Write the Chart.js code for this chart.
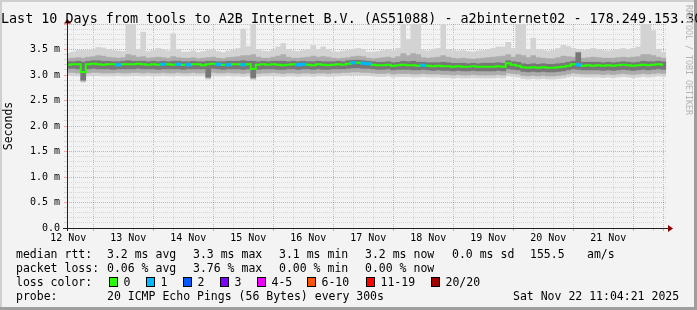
<!DOCTYPE html>
<html lang="en">
<head>
<meta charset="utf-8">
<title>smokeping a2binternet02</title>
<script src="https://cdn.jsdelivr.net/npm/chart.js@4.4.1/dist/chart.umd.min.js"></script>
<style>
  body { margin: 0; background: #fff; }
  #quadro { position: relative; width: 697px; height: 310px; overflow: hidden; font-family: "DejaVu Sans Mono", monospace; color: #000; }
  #quadro canvas { position: absolute; left: 0; top: 0; }
  #titulo { position: absolute; left: 1px; top: 10.5px; font-size: 13.4px; line-height: 16px; white-space: nowrap; }
  .txt { position: absolute; font-size: 11.5px; line-height: 14px; white-space: pre; }
  .caixa { position: absolute; width: 7px; height: 8px; border: 1px solid #000; }
  #marca { position: absolute; left: 684px; top: 5px; writing-mode: vertical-rl; font-size: 8.3px; line-height: 10px; color: #b4b4b4; white-space: nowrap; }
</style>
</head>
<body>
<div id="quadro">
  <canvas id="grafico" width="697" height="310"></canvas>
  <div id="titulo">Last 10 Days from tools to A2B Internet B.V. (AS51088) - a2binternet02 - 178.249.153.30</div>
  <div id="marca">RRDTOOL / TOBI OETIKER</div>

  <span class="txt" style="left:16px;top:247px">median rtt:</span>
  <span class="txt" style="left:107px;top:247px">3.2 ms avg</span>
  <span class="txt" style="left:193px;top:247px">3.3 ms max</span>
  <span class="txt" style="left:279px;top:247px">3.1 ms min</span>
  <span class="txt" style="left:365px;top:247px">3.2 ms now</span>
  <span class="txt" style="left:452px;top:247px">0.0 ms sd</span>
  <span class="txt" style="left:530px;top:247px">155.5</span>
  <span class="txt" style="left:587px;top:247px">am/s</span>

  <span class="txt" style="left:16px;top:261px">packet loss:</span>
  <span class="txt" style="left:107px;top:261px">0.06 % avg</span>
  <span class="txt" style="left:193px;top:261px">3.76 % max</span>
  <span class="txt" style="left:279px;top:261px">0.00 % min</span>
  <span class="txt" style="left:365px;top:261px">0.00 % now</span>

  <span class="txt" style="left:16px;top:275px">loss color:</span>
  <div id="legendaPerda"></div>

  <span class="txt" style="left:16px;top:289px">probe:</span>
  <span class="txt" style="left:107px;top:289px">20 ICMP Echo Pings (56 Bytes) every 300s</span>
  <span class="txt" style="left:513px;top:289px">Sat Nov 22 11:04:21 2025</span>
</div>

<script>
  // eixos / rotulos
  const dayLabels = ['12 Nov', '13 Nov', '14 Nov', '15 Nov', '16 Nov', '17 Nov', '18 Nov', '19 Nov', '20 Nov', '21 Nov'];
  const yLabels = ['0.0', '0.5 m', '1.0 m', '1.5 m', '2.0 m', '2.5 m', '3.0 m', '3.5 m'];
  const lossLabels = ['0', '1', '2', '3', '4-5', '6-10', '11-19', '20/20'];
  const lossColors = ['#26ff00', '#00b8ff', '#0059ff', '#7e00ff', '#ee00ff', '#ff5500', '#ff0000', '#a10000'];

  // mediana (ms), uma amostra a cada 2 horas a partir de 12 Nov 12:00
  const medRtt = [
    3.20, 3.21, 3.21, 3.06, 3.21, 3.22, 3.21, 3.20, 3.21, 3.21, 3.20, 3.21,
    3.21, 3.21, 3.22, 3.21, 3.20, 3.21, 3.20, 3.21, 3.21, 3.20, 3.21, 3.20,
    3.20, 3.21, 3.21, 3.19, 3.21, 3.22, 3.21, 3.20, 3.20, 3.21, 3.21, 3.20,
    3.21, 3.12, 3.20, 3.21, 3.20, 3.21, 3.20, 3.19, 3.20, 3.21, 3.20, 3.21,
    3.20, 3.19, 3.21, 3.20, 3.19, 3.20, 3.21, 3.20, 3.22, 3.24, 3.24, 3.23,
    3.22, 3.20, 3.19, 3.19, 3.20, 3.18, 3.19, 3.20, 3.19, 3.19, 3.18, 3.19,
    3.18, 3.17, 3.18, 3.17, 3.17, 3.16, 3.17, 3.16, 3.16, 3.17, 3.16, 3.16,
    3.16, 3.16, 3.17, 3.16, 3.23, 3.20, 3.18, 3.15, 3.14, 3.15, 3.14, 3.15,
    3.14, 3.14, 3.15, 3.16, 3.18, 3.21, 3.20, 3.18, 3.19, 3.18, 3.19, 3.18,
    3.19, 3.18, 3.19, 3.20, 3.19, 3.18, 3.19, 3.20, 3.19, 3.20, 3.21, 3.20
  ];

  // pings perdidos (de 20) por amostra
  const lossCnt = [
    0, 0, 0, 0, 0, 0, 0, 0, 0, 0, 1, 0,
    0, 0, 0, 0, 0, 0, 0, 1, 0, 0, 1, 0,
    1, 0, 0, 0, 0, 0, 1, 0, 1, 0, 0, 1,
    0, 0, 0, 0, 0, 0, 0, 0, 0, 0, 1, 1,
    0, 0, 0, 0, 0, 0, 0, 0, 0, 1, 0, 1,
    1, 0, 0, 0, 0, 0, 0, 0, 0, 0, 0, 1,
    0, 0, 0, 0, 0, 0, 0, 0, 0, 0, 0, 0,
    0, 0, 0, 0, 0, 0, 0, 0, 0, 0, 0, 0,
    0, 0, 0, 0, 0, 0, 1, 0, 0, 0, 0, 0,
    0, 0, 0, 0, 0, 0, 0, 0, 0, 0, 0, 0
  ];

  // fumaca: faixa clara (min..max)
  const smokeMax = [
    3.43, 3.45, 3.48, 3.49, 3.48, 3.50, 3.54, 3.53, 3.50, 3.48, 3.47, 3.46,
    4.30, 4.30, 3.50, 3.84, 3.46, 3.48, 3.52, 3.50, 3.47, 3.81, 3.50, 3.45,
    3.45, 3.47, 3.44, 3.46, 3.48, 3.50, 3.46, 3.44, 3.47, 3.49, 3.52, 3.90,
    3.56, 4.30, 3.50, 3.47, 3.46, 3.50, 3.55, 3.62, 3.50, 3.47, 3.46, 3.48,
    3.50, 3.58, 3.50, 3.55, 3.50, 3.46, 3.45, 3.47, 3.48, 3.50, 3.52, 3.50,
    3.45, 3.45, 3.46, 3.48, 3.50, 3.47, 3.52, 4.30, 3.70, 4.30, 4.30, 3.48,
    3.47, 3.50, 3.52, 4.30, 3.50, 3.48, 3.47, 3.48, 3.46, 3.45, 3.47, 3.48,
    3.50, 3.52, 3.55, 3.55, 3.64, 3.52, 4.30, 4.30, 3.50, 3.72, 3.50, 3.48,
    3.47, 3.48, 3.52, 3.58, 3.56, 3.52, 3.50, 3.48, 3.50, 3.52, 3.50, 3.48,
    3.47, 3.48, 3.50, 3.52, 3.50, 3.52, 3.55, 4.30, 4.30, 3.87, 3.50, 3.45
  ];
  const smokeMin = [
    2.99, 2.99, 2.98, 2.86, 2.98, 2.99, 2.99, 2.98, 2.98, 2.98, 2.99, 2.98,
    2.98, 2.99, 2.99, 2.98, 2.99, 2.98, 2.98, 2.99, 2.98, 2.98, 2.99, 2.98,
    2.98, 2.99, 2.98, 2.98, 2.92, 2.99, 2.98, 2.98, 2.99, 2.98, 2.98, 2.97,
    2.98, 2.91, 2.97, 2.98, 2.98, 2.99, 2.98, 2.97, 2.98, 2.98, 2.97, 2.98,
    2.98, 2.97, 2.98, 2.98, 2.97, 2.98, 2.98, 2.99, 2.99, 3.00, 3.00, 2.99,
    2.99, 2.98, 2.97, 2.97, 2.98, 2.96, 2.97, 2.97, 2.97, 2.96, 2.96, 2.97,
    2.96, 2.96, 2.96, 2.95, 2.95, 2.94, 2.95, 2.94, 2.94, 2.95, 2.94, 2.94,
    2.94, 2.94, 2.95, 2.94, 2.98, 2.97, 2.96, 2.93, 2.92, 2.93, 2.92, 2.93,
    2.92, 2.92, 2.93, 2.94, 2.96, 2.98, 2.97, 2.96, 2.96, 2.96, 2.96, 2.95,
    2.96, 2.95, 2.96, 2.97, 2.96, 2.95, 2.96, 2.97, 2.96, 2.97, 2.98, 2.97
  ];

  // fumaca: faixa media
  const smokeHi = [
    3.32, 3.33, 3.34, 3.33, 3.35, 3.36, 3.38, 3.37, 3.35, 3.34, 3.33, 3.34,
    3.40, 3.38, 3.35, 3.36, 3.33, 3.34, 3.35, 3.34, 3.33, 3.36, 3.34, 3.33,
    3.33, 3.34, 3.32, 3.33, 3.34, 3.35, 3.33, 3.32, 3.34, 3.35, 3.36, 3.38,
    3.38, 3.40, 3.35, 3.33, 3.33, 3.35, 3.37, 3.40, 3.35, 3.33, 3.33, 3.34,
    3.35, 3.37, 3.35, 3.36, 3.35, 3.33, 3.32, 3.33, 3.34, 3.36, 3.37, 3.36,
    3.33, 3.32, 3.33, 3.34, 3.35, 3.33, 3.36, 3.42, 3.38, 3.42, 3.40, 3.34,
    3.33, 3.34, 3.35, 3.38, 3.35, 3.33, 3.32, 3.33, 3.32, 3.31, 3.32, 3.33,
    3.34, 3.35, 3.36, 3.37, 3.40, 3.35, 3.40, 3.38, 3.34, 3.38, 3.34, 3.33,
    3.32, 3.32, 3.34, 3.37, 3.36, 3.35, 3.34, 3.33, 3.34, 3.35, 3.34, 3.33,
    3.33, 3.33, 3.34, 3.35, 3.34, 3.35, 3.36, 3.40, 3.40, 3.38, 3.35, 3.33
  ];
  const smokeLo = [
    3.05, 3.05, 3.04, 2.88, 3.04, 3.05, 3.05, 3.04, 3.04, 3.04, 3.05, 3.04,
    3.04, 3.05, 3.05, 3.04, 3.05, 3.04, 3.04, 3.05, 3.04, 3.04, 3.05, 3.04,
    3.04, 3.05, 3.04, 3.04, 2.94, 3.05, 3.04, 3.04, 3.05, 3.04, 3.04, 3.03,
    3.04, 2.93, 3.03, 3.04, 3.04, 3.05, 3.04, 3.03, 3.04, 3.04, 3.03, 3.04,
    3.04, 3.03, 3.04, 3.04, 3.03, 3.04, 3.04, 3.05, 3.05, 3.06, 3.06, 3.05,
    3.05, 3.04, 3.03, 3.03, 3.04, 3.02, 3.03, 3.03, 3.03, 3.02, 3.02, 3.03,
    3.02, 3.02, 3.02, 3.01, 3.01, 3.00, 3.01, 3.00, 3.00, 3.01, 3.00, 3.00,
    3.00, 3.00, 3.01, 3.00, 3.04, 3.03, 3.02, 2.99, 2.98, 2.99, 2.98, 2.99,
    2.98, 2.98, 2.99, 3.00, 3.02, 3.04, 3.03, 3.02, 3.02, 3.02, 3.02, 3.01,
    3.02, 3.01, 3.02, 3.03, 3.02, 3.01, 3.02, 3.03, 3.02, 3.03, 3.04, 3.03
  ];

  // fumaca: nucleo escuro
  const coreHi = [
    3.26, 3.26, 3.27, 3.25, 3.27, 3.28, 3.28, 3.27, 3.27, 3.26, 3.26, 3.27,
    3.28, 3.27, 3.27, 3.27, 3.26, 3.27, 3.26, 3.27, 3.26, 3.27, 3.27, 3.26,
    3.26, 3.27, 3.26, 3.26, 3.27, 3.27, 3.26, 3.26, 3.27, 3.27, 3.27, 3.28,
    3.27, 3.27, 3.26, 3.27, 3.26, 3.27, 3.27, 3.27, 3.26, 3.27, 3.26, 3.27,
    3.26, 3.26, 3.27, 3.26, 3.26, 3.26, 3.27, 3.26, 3.28, 3.29, 3.29, 3.28,
    3.27, 3.26, 3.25, 3.25, 3.26, 3.24, 3.25, 3.27, 3.26, 3.27, 3.25, 3.25,
    3.24, 3.24, 3.24, 3.25, 3.24, 3.23, 3.23, 3.23, 3.22, 3.23, 3.22, 3.23,
    3.23, 3.23, 3.24, 3.23, 3.28, 3.26, 3.25, 3.22, 3.21, 3.22, 3.21, 3.22,
    3.21, 3.21, 3.22, 3.23, 3.25, 3.27, 3.44, 3.25, 3.25, 3.25, 3.25, 3.24,
    3.25, 3.24, 3.25, 3.26, 3.25, 3.24, 3.25, 3.27, 3.26, 3.26, 3.27, 3.26
  ];
  const coreLo = [
    3.13, 3.13, 3.12, 2.90, 3.12, 3.13, 3.12, 3.12, 3.12, 3.11, 3.12, 3.12,
    3.12, 3.12, 3.13, 3.12, 3.12, 3.12, 3.11, 3.12, 3.12, 3.12, 3.12, 3.11,
    3.12, 3.12, 3.12, 3.12, 2.96, 3.13, 3.12, 3.11, 3.12, 3.12, 3.12, 3.11,
    3.12, 2.95, 3.11, 3.12, 3.12, 3.12, 3.11, 3.11, 3.12, 3.12, 3.11, 3.12,
    3.12, 3.11, 3.12, 3.11, 3.11, 3.12, 3.12, 3.12, 3.13, 3.14, 3.14, 3.13,
    3.13, 3.12, 3.11, 3.11, 3.12, 3.10, 3.11, 3.11, 3.11, 3.10, 3.10, 3.11,
    3.10, 3.09, 3.10, 3.09, 3.09, 3.08, 3.09, 3.08, 3.08, 3.09, 3.08, 3.08,
    3.08, 3.08, 3.09, 3.08, 3.12, 3.11, 3.10, 3.07, 3.06, 3.07, 3.06, 3.07,
    3.06, 3.06, 3.07, 3.08, 3.10, 3.12, 3.11, 3.10, 3.10, 3.10, 3.10, 3.09,
    3.10, 3.09, 3.10, 3.11, 3.10, 3.09, 3.10, 3.11, 3.10, 3.11, 3.12, 3.11
  ];

  // horas desde 12 Nov 00:00
  const slotHours = medRtt.map((v, i) => 12 + 2 * i);
  const xMin = 11.5, xMax = 251.5;

  function faixaPerda(n) {
    if (n <= 3) return n;
    if (n <= 5) return 4;
    if (n <= 10) return 5;
    if (n <= 19) return 6;
    return 7;
  }

  // legenda das cores de perda
  const legenda = document.getElementById('legendaPerda');
  const caixaX = [109, 146, 183, 220, 257, 307, 366, 431];
  lossLabels.forEach((rot, i) => {
    const cx = document.createElement('div');
    cx.className = 'caixa';
    cx.style.left = caixaX[i] + 'px';
    cx.style.top = '277px';
    cx.style.background = lossColors[i];
    legenda.appendChild(cx);
    const t = document.createElement('span');
    t.className = 'txt';
    t.style.left = (caixaX[i] + 14.5) + 'px';
    t.style.top = '275px';
    t.textContent = rot;
    legenda.appendChild(t);
  });

  const fundo = {
    id: 'fundo',
    beforeDraw(chart) {
      const c = chart.ctx, w = chart.width, h = chart.height;
      c.save();
      c.fillStyle = '#f3f3f3';
      c.fillRect(0, 0, w, h);
      c.fillStyle = '#cfcfcf';
      c.fillRect(0, 0, w, 2);
      c.fillRect(0, 0, 2, h);
      c.fillStyle = '#9e9e9e';
      c.fillRect(0, h - 3, w, 3);
      c.fillRect(w - 3, 0, 3, h);
      c.restore();
    }
  };

  const eixos = {
    id: 'eixos',
    afterDraw(chart) {
      const c = chart.ctx, a = chart.chartArea;
      const y0 = Math.round(a.bottom) + 0.5, x0 = Math.round(a.left) + 0.5;
      c.save();
      c.strokeStyle = '#1f1f1f';
      c.lineWidth = 1;
      c.beginPath();
      c.moveTo(a.left - 4, y0);
      c.lineTo(a.right + 2, y0);
      c.moveTo(x0, a.bottom + 3);
      c.lineTo(x0, a.top - 2);
      c.stroke();
      c.fillStyle = '#8b0000';
      c.beginPath();
      c.moveTo(a.right + 1, y0 - 3.5);
      c.lineTo(a.right + 6, y0);
      c.lineTo(a.right + 1, y0 + 3.5);
      c.fill();
      c.beginPath();
      c.moveTo(x0 - 3.5, a.top - 0.5);
      c.lineTo(x0, a.top - 5);
      c.lineTo(x0 + 3.5, a.top - 0.5);
      c.fill();
      c.restore();
    }
  };

  document.addEventListener('DOMContentLoaded', () => {
    const ctx = document.getElementById('grafico').getContext('2d');
    Chart.defaults.font.family = "'DejaVu Sans Mono', monospace";
    Chart.defaults.color = '#000';

    const faixa = (lo, hi) => slotHours.map((h, i) => ({ x: h, y: [lo[i], hi[i]] }));
    const comPerda = slotHours.map((h, i) => i).filter(i => lossCnt[i] > 0);

    const ticksX = [];
    for (let h = 12; h <= 248; h += 4) ticksX.push(h);

    const barra = { type: 'bar', borderWidth: 0, grouped: false, barPercentage: 1, categoryPercentage: 1 };

    new Chart(ctx, {
      type: 'bar',
      data: {
        datasets: [
          Object.assign({}, barra, { label: 'max', data: faixa(smokeMin, smokeMax), backgroundColor: '#d3d3d3', order: 4 }),
          Object.assign({}, barra, { label: 'mid', data: faixa(smokeLo, smokeHi), backgroundColor: '#acacac', order: 3 }),
          Object.assign({}, barra, { label: 'core', data: faixa(coreLo, coreHi), backgroundColor: '#777777', order: 2 }),
          {
            type: 'line',
            label: 'median rtt',
            data: slotHours.map((h, i) => ({ x: h, y: medRtt[i] })),
            borderColor: lossColors[0],
            borderWidth: 2,
            pointRadius: 0,
            stepped: 'middle',
            order: 1
          },
          Object.assign({}, barra, {
            label: 'loss',
            data: comPerda.map(i => ({ x: slotHours[i], y: [medRtt[i] - 0.025, medRtt[i] + 0.025] })),
            backgroundColor: comPerda.map(i => lossColors[faixaPerda(lossCnt[i])]),
            order: 0
          })
        ]
      },
      options: {
        responsive: false,
        animation: false,
        devicePixelRatio: 1,
        layout: { padding: { top: 24, right: 30, bottom: 62, left: 0 } },
        plugins: { legend: { display: false }, tooltip: { enabled: false } },
        scales: {
          x: {
            type: 'linear',
            min: xMin,
            max: xMax,
            offset: false,
            z: 1,
            afterBuildTicks: s => { s.ticks = ticksX.map(v => ({ value: v })); },
            afterFit: s => { s.height = 20; },
            ticks: {
              autoSkip: false,
              maxRotation: 0,
              padding: 1,
              font: { size: 10 },
              callback: v => (v % 24 === 12 ? dayLabels[(v - 12) / 24] : '')
            },
            grid: {
              tickLength: 3,
              color: c => {
                const v = c.tick ? c.tick.value : 0;
                if (v % 24 === 0) return 'rgba(255,0,0,0.35)';
                if (v % 8 === 0) return '#d6d6d6';
                return 'rgba(0,0,0,0)';
              }
            },
            border: { display: false, dash: [1, 1] }
          },
          y: {
            min: 0,
            max: 4,
            z: 1,
            afterFit: s => { s.width = 67; },
            ticks: {
              stepSize: 0.1,
              autoSkip: false,
              padding: 4,
              font: { size: 10 },
              callback: v => {
                const r = Math.round(v * 10);
                return r % 5 === 0 && yLabels[r / 5] ? yLabels[r / 5] : '';
              }
            },
            grid: {
              tickLength: 3,
              color: c => {
                const r = Math.round((c.tick ? c.tick.value : 0) * 10);
                return r % 5 === 0 ? 'rgba(255,0,0,0.35)' : '#d6d6d6';
              }
            },
            border: { display: false, dash: [1, 1] },
            title: { display: true, text: 'Seconds', font: { size: 11.5 }, padding: { top: 2, bottom: 0 } }
          }
        }
      },
      plugins: [fundo, eixos]
    });
  });
</script>
</body>
</html>
